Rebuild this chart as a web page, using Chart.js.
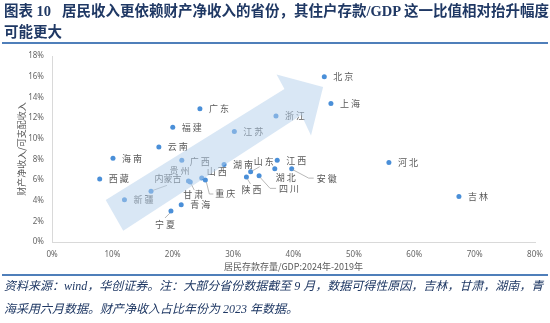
<!DOCTYPE html>
<html>
<head>
<meta charset="utf-8">
<script src="https://cdn.jsdelivr.net/npm/chart.js@4.4.1/dist/chart.umd.min.js"></script>
<style>
  body { margin: 0; width: 550px; height: 323px; overflow: hidden; background: #fff; position: relative; }
  .serif { font-family: "Liberation Serif", "Noto Sans CJK SC", serif; color: #1f3864; white-space: nowrap; }
  #title { position: absolute; left: 4px; top: 1px; font-weight: bold; font-size: 14.5px; line-height: 21px; }
  #note { position: absolute; left: 4px; top: 275px; font-style: italic; font-size: 12px; line-height: 23px; }
  .rule { position: absolute; left: 2px; width: 546px; height: 2px; background: #4f7fba; }
  #chart { position: absolute; left: 0; top: 0; }
</style>
</head>
<body>
<canvas id="chart" width="550" height="323"></canvas>
<div id="title" class="serif">图表 10&nbsp;&nbsp;&nbsp;居民收入更依赖财产净收入的省份，其住户存款/GDP 这一比值相对抬升幅度<br>可能更大</div>
<div class="rule" style="top:42px"></div>
<div class="rule" style="top:274px"></div>
<div id="note" class="serif">资料来源：wind，华创证券。注：大部分省份数据截至 9 月，数据可得性原因，吉林，甘肃，湖南，青<br>海采用六月数据。财产净收入占比年份为 2023 年数据。</div>

<script>
const provinces = ['北京', '上海', '浙江', '江苏', '广东', '福建', '云南', '海南', '西藏', '广西',
  '贵州', '甘肃', '内蒙古', '新疆', '山西', '重庆', '湖南', '山东', '陕西', '四川',
  '江西', '湖北', '安徽', '青海', '宁夏', '河北', '吉林']
// 居民存款存量/GDP 变化（2024年-2019年，%）
const depositChange = [45.1, 46.2, 37.1, 30.2, 24.5, 20.0, 17.7, 10.1, 7.9, 21.5,
  22.6, 22.9, 16.4, 12.0, 24.8, 25.4, 28.5, 32.9, 32.2, 34.3,
  37.3, 36.9, 39.7, 21.4, 19.7, 55.8, 67.4]
// 财产净收入/可支配收入（%）
const propertyShare = [16.0, 13.4, 12.2, 10.7, 12.9, 11.1, 9.2, 8.1, 6.1, 7.9,
  5.9, 5.8, 4.9, 4.1, 6.2, 6.0, 7.5, 6.8, 6.3, 6.4,
  7.9, 7.1, 7.1, 3.6, 3.0, 7.7, 4.4]
const xTicks = [0, 10, 20, 30, 40, 50, 60, 70, 80]
const yTicks = [0, 2, 4, 6, 8, 10, 12, 14, 16, 18]
const xTitle = '居民存款存量/GDP:2024年-2019年'
const yTitle = '财产净收入/可支配收入'

// trend arrow outline, in axis units
const arrowOutline = [[8.9, 4.06], [38.5, 14.8], [37.2, 16.2], [44.9, 15.0],
  [42.9, 10.3], [41.3, 12.3], [11.8, 1.09]]

// label offsets (px) from each dot; everything else sits to the right
const labelPlacement = {
  '贵州': { dx: -8, dy: -10, align: 'center' },
  '甘肃': { dx: 4, dy: 13, align: 'center', leader: [[1, 2], [4, 8]] },
  '内蒙古': { dx: 17, dy: -13, align: 'center', spacing: 0, leader: [[2, -1], [16, -6]] },
  '山西': { dx: 5, dy: -6 },
  '重庆': { dx: 10, dy: 14, leader: [[1, 2], [4, 14], [8, 14]] },
  '山东': { dx: 14, dy: -10, align: 'center', leader: [[2, -1], [9, -5]] },
  '陕西': { dx: 6, dy: 13, align: 'center', leader: [[1, 2], [4, 7]] },
  '四川': { dx: 20, dy: 12.5, leader: [[1, 1.5], [11, 12.5], [17, 12.5]] },
  '湖北': { dx: 12, dy: 9, align: 'center' },
  '安徽': { dx: 25, dy: 9.5, leader: [[1, 1], [17, 9.5], [22, 9.5]] },
  '宁夏': { dx: -5, dy: 14, align: 'center', leader: [[-1, 2], [-6, 7]] },
  '广西': { dx: 8, dy: 1 }
}

const points = provinces.map((name, i) => ({ x: depositChange[i], y: propertyShare[i], name }))

// axis titles, names + leader lines, then the translucent arrow laid over them
const overlayPlugin = {
  id: 'overlay',
  afterDatasetsDraw(chart) {
    const { ctx, chartArea: area, scales: { x, y } } = chart
    const meta = chart.getDatasetMeta(0)
    ctx.save()
    ctx.textBaseline = 'middle'
    ctx.fillStyle = '#595959'
    ctx.font = '9px "Noto Sans CJK SC", sans-serif'
    ctx.textAlign = 'center'
    ctx.fillText(xTitle, (area.left + area.right) / 2, area.bottom + 25)
    ctx.save()
    ctx.translate(22, (area.top + area.bottom) / 2)
    ctx.rotate(-Math.PI / 2)
    ctx.fillText(yTitle, 0, 0)
    ctx.restore()

    ctx.strokeStyle = '#a6a6a6'
    ctx.lineWidth = 0.8
    meta.data.forEach((el, i) => {
      const p = { dx: 9, dy: 0, align: 'left', spacing: 2, ...(labelPlacement[provinces[i]] || {}) }
      if (p.leader) {
        ctx.beginPath()
        p.leader.forEach(([lx, ly], k) => {
          if (k === 0) ctx.moveTo(el.x + lx, el.y + ly)
          else ctx.lineTo(el.x + lx, el.y + ly)
        })
        ctx.stroke()
      }
      ctx.letterSpacing = p.spacing + 'px'
      ctx.textAlign = p.align
      ctx.fillText(provinces[i], el.x + p.dx, el.y + p.dy)
    })
    ctx.letterSpacing = '0px'

    ctx.beginPath()
    arrowOutline.forEach(([ax, ay], k) => {
      const px = x.getPixelForValue(ax)
      const py = y.getPixelForValue(ay)
      if (k === 0) ctx.moveTo(px, py)
      else ctx.lineTo(px, py)
    })
    ctx.closePath()
    ctx.fillStyle = 'rgba(180, 208, 236, 0.5)'
    ctx.fill()
    ctx.restore()
  }
}

const tickFont = { family: '"Noto Sans", sans-serif', size: 8 }

new Chart(document.getElementById('chart'), {
  type: 'scatter',
  data: {
    datasets: [{
      data: points,
      backgroundColor: '#4a8fd8',
      borderColor: '#4a8fd8',
      pointRadius: 2.5,
      pointBorderWidth: 0
    }]
  },
  options: {
    responsive: false,
    animation: false,
    layout: { padding: { top: 56, right: 15, bottom: 48, left: 0 } },
    plugins: { legend: { display: false }, tooltip: { enabled: false } },
    scales: {
      x: {
        type: 'linear',
        min: 0,
        max: 80,
        afterFit: s => { s.height = 33 },
        afterBuildTicks: s => { s.ticks = xTicks.map(v => ({ value: v })) },
        grid: { display: false },
        border: { display: true, color: '#d9d9d9', width: 1 },
        ticks: { font: tickFont, color: '#666', padding: 0, maxRotation: 0, callback: v => v + '%' }
      },
      y: {
        type: 'linear',
        min: 0,
        max: 18,
        afterFit: s => { s.width = 52 },
        afterBuildTicks: s => { s.ticks = yTicks.map(v => ({ value: v })) },
        grid: { display: false },
        border: { display: true, color: '#d9d9d9', width: 1 },
        ticks: { font: tickFont, color: '#666', padding: 0, callback: v => v + '%' }
      }
    }
  },
  plugins: [overlayPlugin]
})
</script>
</body>
</html>
